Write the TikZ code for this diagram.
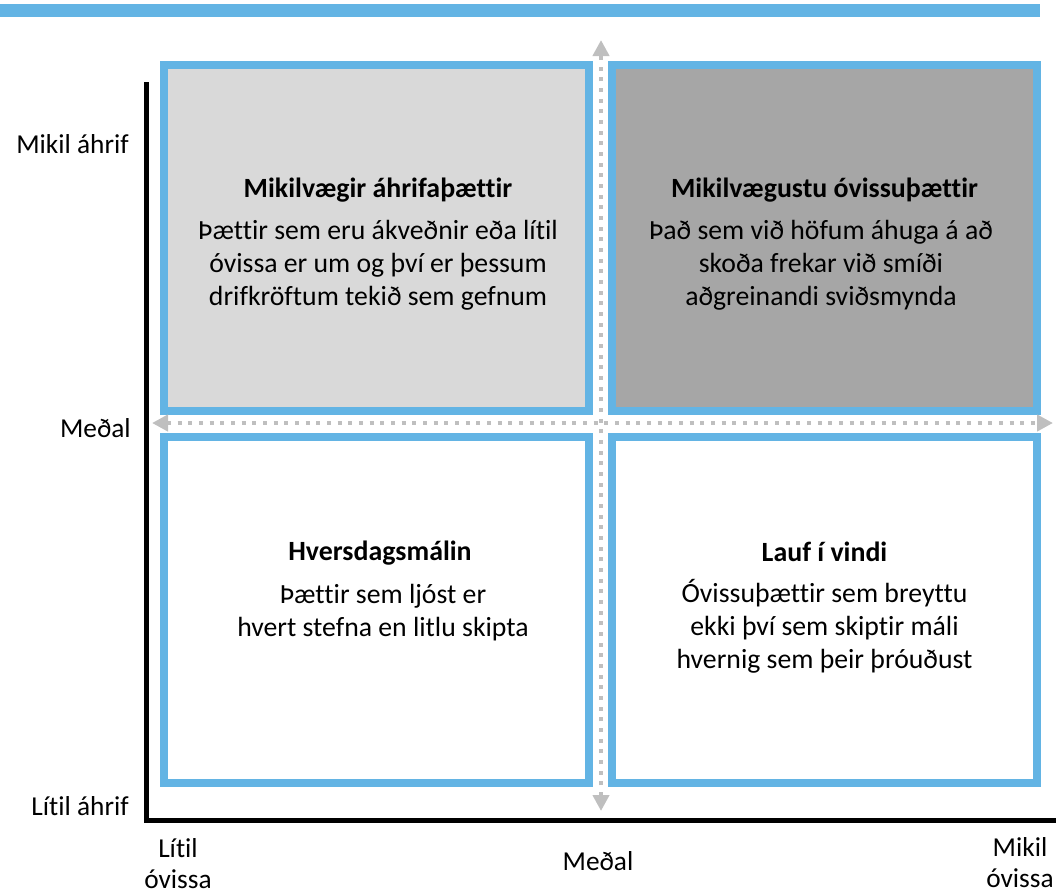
\documentclass[tikz,border=0pt]{standalone}
\usepackage{fontspec}
\setmainfont{Carlito}[Ligatures={NoCommon}]
\usetikzlibrary{arrows.meta}
\definecolor{qblue}{HTML}{63B4E4}
\definecolor{qlight}{HTML}{D9D9D9}
\definecolor{qdark}{HTML}{A6A6A6}
\definecolor{qdot}{HTML}{BFBFBF}
\tikzset{
  quad/.style={draw=qblue, line width=6pt, minimum width=318.75pt, minimum height=259.5pt, inner sep=0pt},
  txt/.style={font=\fontsize{20.5pt}{24.75pt}\selectfont, inner sep=0pt, align=center, anchor=base},
  body/.style={txt, font=\fontsize{20.8pt}{24.75pt}\selectfont},
  ttl/.style={txt, font=\fontsize{20.9pt}{24.75pt}\selectfont\bfseries},
  dotarrow/.style={draw=qdot, line width=3pt, dash pattern=on 3pt off 5pt,
    {Triangle[length=12pt,width=12pt]}-{Triangle[length=12pt,width=12pt]}},
  axis/.style={draw=black, line width=3.75pt, miter limit=10}
}
\begin{document}
\begin{tikzpicture}[x=0.75pt,y=-0.75pt]
\useasboundingbox (0,0) rectangle (1056,894);
% top bar
\fill[qblue] (0,4) rectangle (1040,17);
% axes
\coordinate (atop) at (146,82);
\coordinate (acorner) at (146,820);
\coordinate (aright) at (1056,820);
\draw[axis] (atop) -- (acorner) -- (aright);
% quadrants
\node[quad, fill=qlight] (tl) at (376.5,238) {};
\node[quad, fill=qdark] (tr) at (824.5,238) {};
\node[quad, fill=white] (bl) at (376.5,609.5) {};
\node[quad, fill=white] (br) at (824.5,609.5) {};
% dotted arrows
\coordinate (vtop) at (601,40);
\coordinate (vbot) at (601,811);
\coordinate (hleft) at (152,423);
\coordinate (hright) at (1053,423);
\draw[dotarrow] (vbot) -- (vtop);
\draw[dotarrow] (hleft) -- (hright);
% quadrant texts (base anchor = baseline of last line)
\node[ttl] (tlt) at (378,197) {Mikilvægir áhrifaþættir};
\node[body] (tlb) at (378,305) {Þættir sem eru ákveðnir eða lítil\\óvissa er um og því er þessum\\drifkröftum tekið sem gefnum};
\node[ttl] (trt) at (824.5,197) {Mikilvægustu óvissuþættir};
\node[body] (trb) at (821,305) {Það sem við höfum áhuga á að\\skoða frekar við smíði\\aðgreinandi sviðsmynda};
\node[ttl] (blt) at (380,560) {Hversdagsmálin};
\node[body] (blb) at (383,636) {Þættir sem ljóst er\\hvert stefna en litlu skipta};
\node[ttl] (brt) at (824.5,561) {Lauf í vindi};
\node[body] (brb) at (824.5,668) {Óvissuþættir sem breyttu\\ekki því sem skiptir máli\\hvernig sem þeir þróuðust};
% axis labels
\node[txt, anchor=base east] (yhi) at (129,153) {Mikil áhrif};
\node[txt, anchor=base east] (ymid) at (131,437) {Meðal};
\node[txt, anchor=base east] (ylo) at (129,815) {Lítil áhrif};
\node[txt, font=\fontsize{20.5pt}{23.25pt}\selectfont] (xlo) at (178,888) {Lítil\\óvissa};
\node[txt] (xmid) at (598,870) {Meðal};
\node[txt, font=\fontsize{20.5pt}{23.25pt}\selectfont] (xhi) at (1020,887) {Mikil\\óvissa};
\end{tikzpicture}
\end{document}
